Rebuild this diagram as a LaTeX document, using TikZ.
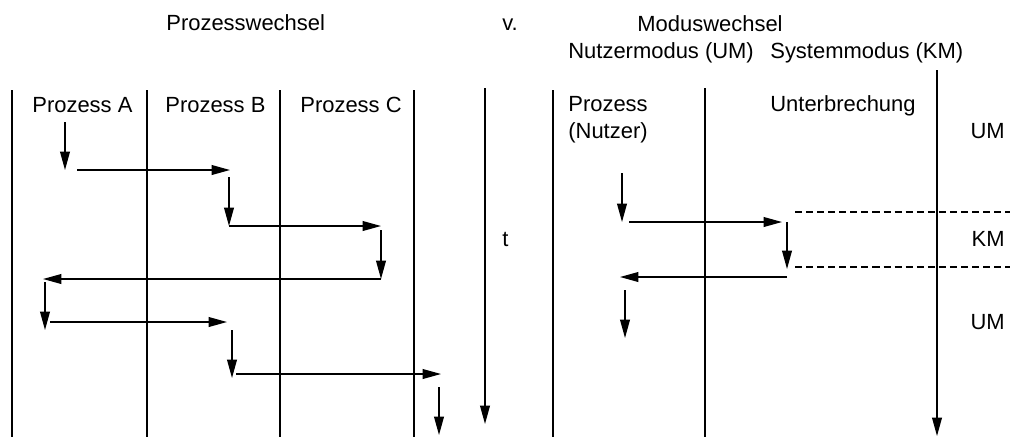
\documentclass[tikz,border=0pt]{standalone}
\usepackage{fontspec}
\setmainfont{Liberation Sans}
\usetikzlibrary{arrows.meta}
\begin{document}
\begin{tikzpicture}[x=0.02cm,y=-0.02cm,>={Triangle[length=10.5pt,width=5.6pt]},
  font=\fontsize{12.5}{15}\selectfont, line join=round,
  lane/.style={line width=0.6pt},
  flow/.style={->,line width=0.75pt},
  txt/.style={inner sep=0pt,anchor=base west},
  txtr/.style={inner sep=0pt,anchor=base east}]
\useasboundingbox (0,0) rectangle (1010,437);
\def\ytop{90} \def\ybot{437} % Spuren
% Titel
\node[txt] (pw) at (166,30) {Prozesswechsel};
\node[txt] (vs) at (502,30) {v.};
\node[txt] (mw) at (637,31) {Moduswechsel};
\node[txt] (um) at (568,58) {Nutzermodus (UM)};
\node[txt] (km) at (770,58) {Systemmodus (KM)};
\node[txt] (pa) at (32,112) {Prozess A};
\node[txt] (pb) at (165,112) {Prozess B};
\node[txt] (pc) at (300,112) {Prozess C};
\node[txt] (pn) at (568,111) {Prozess};
\node[txt] (pn2) at (568,138) {(Nutzer)};
\node[txt] (ub) at (770,111) {Unterbrechung};
\node[txt] (tt) at (502,246) {t};
\node[txtr] (m1) at (1005,138) {UM};
\node[txtr] (m2) at (1005,246) {KM};
\node[txtr] (m3) at (1005,329) {UM};
% Spuren
\foreach \x in {12,147,280,414} \draw[lane] (\x,\ytop)--(\x,\ybot);
\draw[lane] (553,\ytop)--(553,\ybot);
\draw[lane] (705,88)--(705,\ybot);
% Zeitachsen
\coordinate (t0) at (485,88); \coordinate (t1) at (485,424);
\draw[flow] (t0)--(t1);
\coordinate (k0) at (937,70); \coordinate (k1) at (937,436);
\draw[flow] (k0)--(k1);
% Prozesswechsel
\coordinate (a1) at (65,122); \coordinate (a2) at (65,170);
\coordinate (a3) at (77,170); \coordinate (a4) at (230,170);
\coordinate (b1) at (229,177); \coordinate (b2) at (229,226);
\coordinate (b3) at (381,226);
\coordinate (c1) at (381,230); \coordinate (c2) at (381,279);
\coordinate (c3) at (43,279);
\coordinate (a5) at (45,282); \coordinate (a6) at (45,330);
\coordinate (a7) at (50,322); \coordinate (a8) at (227,322);
\coordinate (b4) at (232,330); \coordinate (b5) at (232,378);
\coordinate (b6) at (236,374); \coordinate (b7) at (441,374);
\coordinate (d1) at (439,387); \coordinate (d2) at (439,435);
\draw[flow] (a1)--(a2);
\draw[flow] (a3)--(a4);
\draw[flow] (b1)--(b2);
\draw[flow] (b2)--(b3);
\draw[flow] (c1)--(c2);
\draw[flow] (c2)--(c3);
\draw[flow] (a5)--(a6);
\draw[flow] (a7)--(a8);
\draw[flow] (b4)--(b5);
\draw[flow] (b6)--(b7);
\draw[flow] (d1)--(d2);
% Moduswechsel
\coordinate (n1) at (622,173); \coordinate (n2) at (622,222);
\coordinate (n3) at (629,222); \coordinate (u1) at (782,222);
\coordinate (u2) at (787,222); \coordinate (u3) at (787,269);
\coordinate (u4) at (787,277); \coordinate (n4) at (620,277);
\coordinate (n5) at (625,290); \coordinate (n6) at (625,338);
\draw[flow] (n1)--(n2);
\draw[flow] (n3)--(u1);
\draw[flow] (u2)--(u3);
\draw[flow] (u4)--(n4);
\draw[flow] (n5)--(n6);
\coordinate (g1) at (795,212); \coordinate (g2) at (1010,212);
\coordinate (g3) at (795,267); \coordinate (g4) at (1010,267);
\draw[lane,dash pattern=on 4pt off 2.3pt] (g1)--(g2);
\draw[lane,dash pattern=on 4pt off 2.3pt] (g3)--(g4);
\end{tikzpicture}
\end{document}
